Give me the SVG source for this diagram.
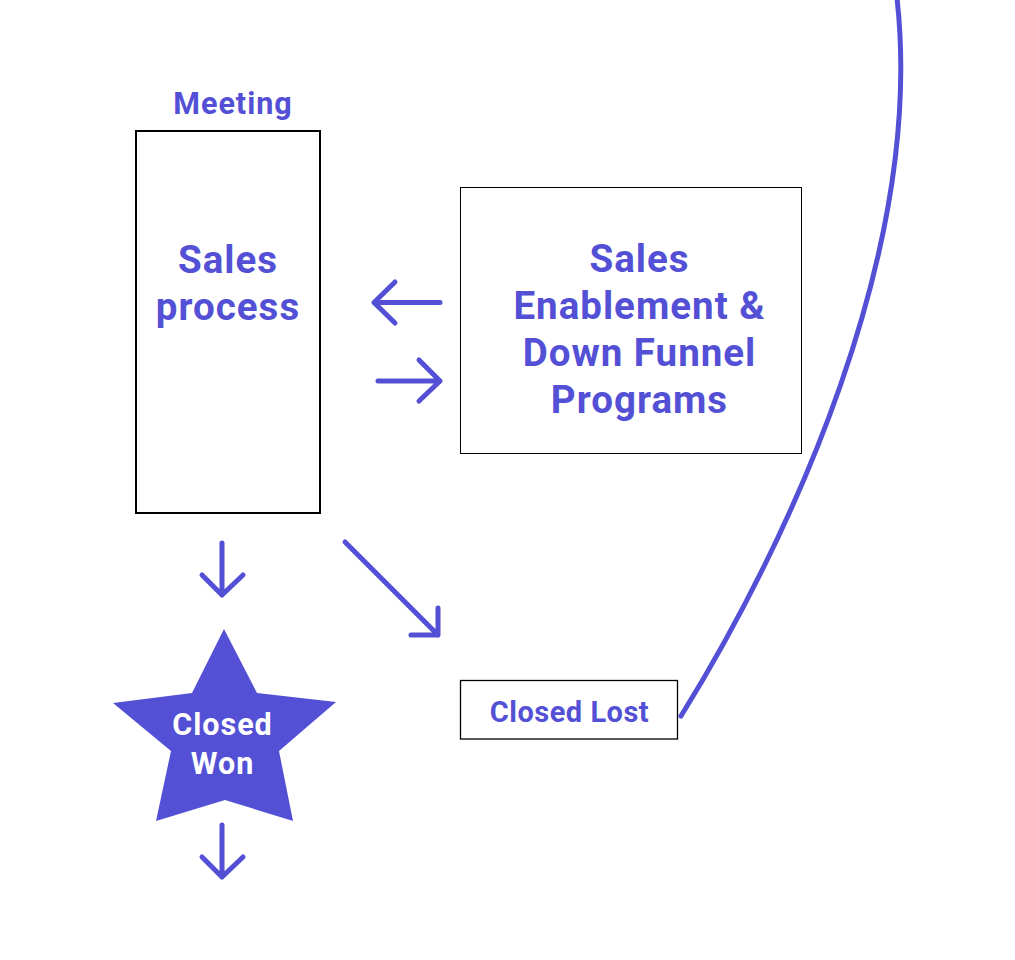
<svg xmlns="http://www.w3.org/2000/svg" width="1015" height="960" viewBox="0 0 1015 960">
<style>
.lbl{font-family:Roboto,"Liberation Sans",sans-serif;font-weight:700;fill:#5350d6;text-anchor:middle;letter-spacing:1px}
.box{fill:#fff;stroke:#000}
.arr{fill:none;stroke:#5350d6;stroke-width:5;stroke-linecap:round;stroke-linejoin:round}
</style>
<rect width="1015" height="960" fill="#fff"/>
<g id="meeting">
<text class="lbl" x="233" y="114" font-size="30.5">Meeting</text>
</g>
<g id="sales-process">
<rect class="box" x="136" y="131" width="184" height="382" stroke-width="2"/>
<text class="lbl" x="228" y="273" font-size="38.5">Sales</text>
<text class="lbl" x="228" y="320" font-size="38.5">process</text>
</g>
<g id="sales-enablement">
<rect class="box" x="460.5" y="187.5" width="341" height="266" stroke-width="1"/>
<text class="lbl" x="639.5" y="272" font-size="38.5">Sales</text>
<text class="lbl" x="639.5" y="319" font-size="38.5">Enablement &amp;</text>
<text class="lbl" x="639.5" y="366" font-size="38.5">Down Funnel</text>
<text class="lbl" x="639.5" y="413" font-size="38.5">Programs</text>
</g>
<g id="closed-won">
<polygon points="224,629 257,693 336,702 279,751 293,821 225,800 156,821 171,751 113,703 192,693" fill="#5350d6"/>
<text class="lbl" x="222.5" y="735" font-size="30.5" style="fill:#fff">Closed</text>
<text class="lbl" x="222.5" y="774" font-size="30.5" style="fill:#fff">Won</text>
</g>
<g id="closed-lost">
<rect class="box" x="460.5" y="680.5" width="217" height="58.5" stroke-width="1.3"/>
<text class="lbl" x="569.5" y="722" font-size="29" style="letter-spacing:0.5px">Closed Lost</text>
</g>
<g id="connectors">
<path class="arr" d="M440 302.5H374M395 282L374 302.5L395 323"/>
<path class="arr" d="M378 381H440M419 360L440 381L419 401"/>
<path class="arr" d="M222 543V595M202 575L222 595L243 575"/>
<path class="arr" d="M345 542L438 635M411 635H438V608"/>
<path class="arr" d="M222 825V877M202 857L222 877L243 857"/>
<path class="arr" d="M681 716C790 540 925 250 897 -2"/>
</g>
</svg>
